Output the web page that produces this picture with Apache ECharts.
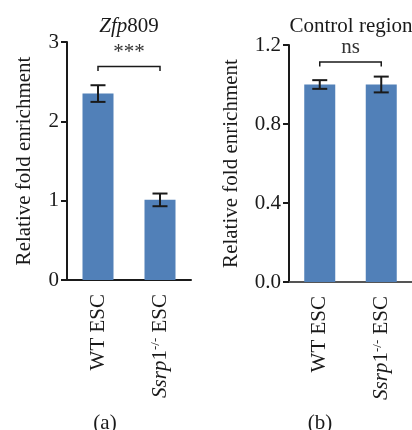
<!DOCTYPE html>
<html>
<head>
<meta charset="utf-8">
<script src="https://cdn.jsdelivr.net/npm/echarts@6/dist/echarts.min.js"></script>
<style>
  html, body { margin: 0; padding: 0; background: #fff; }
  #main { width: 412px; height: 430px; }
</style>
</head>
<body>
<div id="main"></div>
<script>
// categories shared by both panels
var categories = ['WT ESC', 'Ssrp1-/- ESC'];

// panel (a) Zfp809
var meanA = [2.35, 1.01];
var errA = [0.105, 0.08];
var bracketA = 2.69;
var sigA = '***';
var ticksA = { min: 0, max: 3, interval: 1 };

// panel (b) Control region
var meanB = [1.0, 1.0];
var errB = [0.022, 0.04];
var bracketB = 1.114;
var sigB = 'ns';
var ticksB = { min: 0, max: 1.2, interval: 0.4 };

var font = '"Liberation Serif", "DejaVu Serif", serif';
var fs = 21;
var barColor = '#5180b8';
var ink = '#1a1a1a';

var chart = echarts.init(document.getElementById('main'));

function errRender(params, api) {
  var x = api.value(0);
  var top = api.coord([x, api.value(2)]);
  var bot = api.coord([x, api.value(1)]);
  var hw = 7.5;
  var st = { stroke: ink, lineWidth: 2 };
  return {
    type: 'group',
    children: [
      { type: 'line', shape: { x1: top[0], y1: top[1], x2: bot[0], y2: bot[1] }, style: st },
      { type: 'line', shape: { x1: top[0] - hw, y1: top[1], x2: top[0] + hw, y2: top[1] }, style: st },
      { type: 'line', shape: { x1: bot[0] - hw, y1: bot[1], x2: bot[0] + hw, y2: bot[1] }, style: st }
    ]
  };
}

function bracketRender(label) {
  return function (params, api) {
    var a = api.coord([api.value(0), api.value(2)]);
    var b = api.coord([api.value(1), api.value(2)]);
    return {
      type: 'group',
      children: [
        { type: 'polyline', shape: { points: [[a[0], a[1] + 4.5], [a[0], a[1]], [b[0], b[1]], [b[0], b[1] + 4.5]] },
          style: { stroke: ink, lineWidth: 1.5, fill: null } },
        { type: 'text', x: (a[0] + b[0]) / 2, y: a[1] - 4,
          style: { text: label, fill: '#333', font: fs + 'px ' + font, align: 'center', verticalAlign: 'bottom' } }
      ]
    };
  };
}

function errData(mean, err) {
  return mean.map(function (m, i) { return [i, m - err[i], m + err[i]]; });
}

var xLabel = {
  rotate: 90,
  margin: 14,
  color: ink,
  fontFamily: font,
  fontSize: fs,
  formatter: function (v) {
    if (v.indexOf('Ssrp') === 0) return '{it|Ssrp}1{sup|-/-} ESC';
    return v;
  },
  rich: {
    it: { fontStyle: 'italic', fontFamily: font, fontSize: fs, color: ink },
    sup: { fontSize: 13, fontFamily: font, color: ink, verticalAlign: 'top', lineHeight: 21 }
  }
};

function xAxis(idx, lineColor) {
  return {
    type: 'category',
    gridIndex: idx,
    data: categories,
    axisLine: { lineStyle: { color: lineColor, width: 2 } },
    axisTick: { alignWithLabel: true, length: 6, lineStyle: { color: ink, width: 2 } },
    axisLabel: xLabel
  };
}

function yAxis(idx, t, digits, gap) {
  return {
    type: 'value',
    gridIndex: idx,
    min: t.min, max: t.max, interval: t.interval,
    name: 'Relative fold enrichment',
    nameLocation: 'middle',
    nameGap: gap,
    nameTextStyle: { fontFamily: font, fontSize: fs, color: ink },
    splitLine: { show: false },
    axisLine: { show: true, lineStyle: { color: ink, width: 2 } },
    axisTick: { show: true, length: 6, lineStyle: { color: ink, width: 2 } },
    axisLabel: {
      margin: 8, color: ink, fontFamily: font, fontSize: fs,
      formatter: function (v) { return v.toFixed(digits); }
    }
  };
}

chart.setOption({
  animation: false,
  backgroundColor: '#fff',
  title: [
    { text: '{it|Zfp}809', left: 124, top: 11, textAlign: 'center',
      textStyle: { fontFamily: font, fontSize: fs, fontWeight: 'normal', color: ink,
        rich: { it: { fontStyle: 'italic', fontFamily: font, fontSize: fs, color: ink } } } },
    { text: 'Control region', left: 346, top: 11, textAlign: 'center',
      textStyle: { fontFamily: font, fontSize: fs, fontWeight: 'normal', color: ink } },
    { text: '(a)', left: 100, top: 408, textAlign: 'center',
      textStyle: { fontFamily: font, fontSize: fs, fontWeight: 'normal', color: ink } },
    { text: '(b)', left: 315, top: 408, textAlign: 'center',
      textStyle: { fontFamily: font, fontSize: fs, fontWeight: 'normal', color: ink } }
  ],
  grid: [
    { left: 67, top: 42, width: 124, height: 238 },
    { left: 289, top: 45, width: 124, height: 237 }
  ],
  xAxis: [xAxis(0, ink), xAxis(1, '#555')],
  yAxis: [yAxis(0, ticksA, 0, 32), yAxis(1, ticksB, 1, 47)],
  series: [
    { type: 'bar', xAxisIndex: 0, yAxisIndex: 0, data: meanA, barWidth: 31,
      itemStyle: { color: barColor } },
    { type: 'custom', xAxisIndex: 0, yAxisIndex: 0, data: errData(meanA, errA),
      renderItem: errRender, z: 5 },
    { type: 'custom', xAxisIndex: 0, yAxisIndex: 0, data: [[0, 1, bracketA]],
      renderItem: bracketRender(sigA), z: 5 },
    { type: 'bar', xAxisIndex: 1, yAxisIndex: 1, data: meanB, barWidth: 31,
      itemStyle: { color: barColor } },
    { type: 'custom', xAxisIndex: 1, yAxisIndex: 1, data: errData(meanB, errB),
      renderItem: errRender, z: 5 },
    { type: 'custom', xAxisIndex: 1, yAxisIndex: 1, data: [[0, 1, bracketB]],
      renderItem: bracketRender(sigB), z: 5 }
  ]
});
</script>
</body>
</html>
